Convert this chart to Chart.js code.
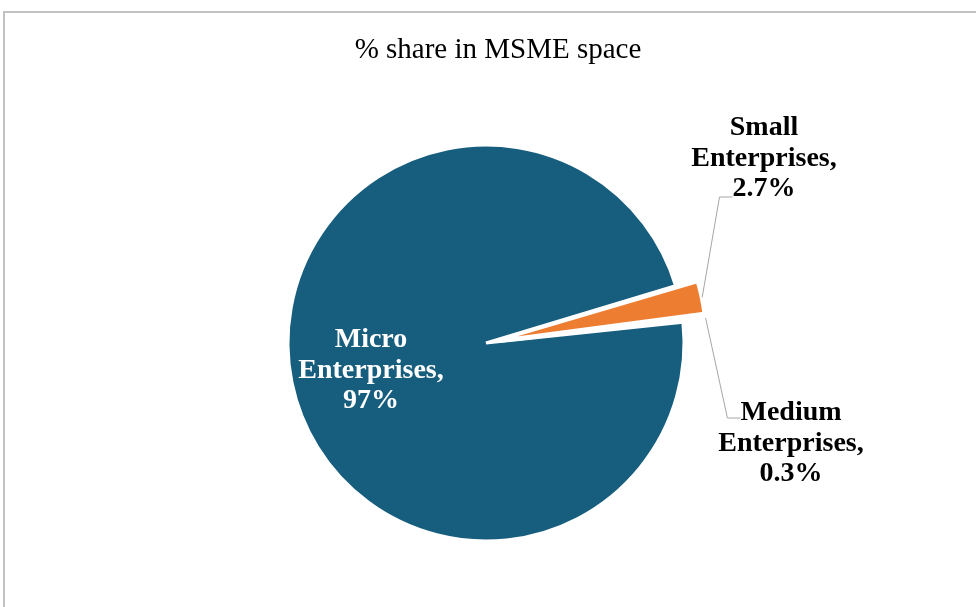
<!DOCTYPE html>
<html>
<head>
<meta charset="utf-8">
<script src="https://cdn.jsdelivr.net/npm/chart.js@4"></script>
<style>
  html, body { margin: 0; padding: 0; background: #fff; overflow: hidden; }
  #frame {
    position: absolute; left: 3px; top: 11px;
    width: 1000px; height: 700px;
    border: 2px solid #c2c2c2;
  }
  #wrap { position: absolute; left: 0; top: 0; width: 976px; height: 607px; }
</style>
</head>
<body>
<div id="frame"></div>
<div id="wrap"><canvas id="shareChart"></canvas></div>
<script>
// data
const chartTitle = "% share in MSME space";
const categories = ["Micro Enterprises", "Small Enterprises", "Medium Enterprises"];
const shares = [97, 2.7, 0.3];

const sliceColors = ["#175e7e", "#ed7d31", "#ffffff"];
const explode = [0, 48, 48]; // slice is moved by offset/2

// where each label sits, relative to the pie centre (first line baseline)
const labelLayout = [
    { dx: -115, dy: 4, color: "#ffffff", leader: null },
    { dx: 278, dy: -208, color: "#000000", leader: { line: 2, dy: 1 } },
    { dx: 305, dy: 77, color: "#000000", leader: { line: 0, dy: -2 } }
];
const lineGap = 30.5;
const serif = '"Liberation Serif", "Times New Roman", serif';

const sliceLabels = {
    id: "sliceLabels",
    afterDatasetsDraw(chart) {
        const ctx = chart.ctx;
        const meta = chart.getDatasetMeta(0);
        ctx.save();

        // title
        ctx.font = "29px " + serif;
        ctx.fillStyle = "#000000";
        ctx.textAlign = "center";
        ctx.textBaseline = "alphabetic";
        ctx.fillText(chartTitle, chart.width / 2 + 10, 58);

        ctx.font = "bold 28px " + serif;
        meta.data.forEach((arc, i) => {
            const p = arc.getProps(["x", "y", "startAngle", "endAngle", "outerRadius"], true);
            const lay = labelLayout[i];
            const words = categories[i].split(" ");
            const lines = [words[0], words[1] + ",", shares[i] + "%"];
            const cx = p.x + lay.dx;
            const by = p.y + lay.dy;

            ctx.fillStyle = lay.color;
            lines.forEach((t, k) => ctx.fillText(t, cx, by + k * lineGap));

            if (lay.leader) {
                const mid = (p.startAngle + p.endAngle) / 2;
                const r = p.outerRadius + (arc.options.offset || 0) / 2 - 1;
                const sx = p.x + Math.cos(mid) * r;
                const sy = p.y + Math.sin(mid) * r;
                const t = lines[lay.leader.line];
                const left = cx - ctx.measureText(t).width / 2;
                const ly = by + lay.leader.line * lineGap + lay.leader.dy;
                ctx.strokeStyle = "#a6a6a6";
                ctx.lineWidth = 1;
                ctx.beginPath();
                ctx.moveTo(sx, sy);
                ctx.lineTo(left - 13, ly);
                ctx.lineTo(left, ly);
                ctx.stroke();
            }
        });
        ctx.restore();
    }
};

const ctx = document.getElementById("shareChart").getContext("2d");

new Chart(ctx, {
    type: "pie",
    data: {
        labels: categories,
        datasets: [{
            data: shares,
            backgroundColor: sliceColors,
            borderColor: "#ffffff",
            borderWidth: 3,
            offset: explode,
            radius: 198
        }]
    },
    options: {
        responsive: true,
        maintainAspectRatio: false,
        animation: false,
        rotation: 84,
        layout: { padding: { top: 79, bottom: 0, left: 0, right: 4 } },
        plugins: {
            legend: { display: false },
            tooltip: { enabled: false },
            title: { display: false }
        }
    },
    plugins: [sliceLabels]
});
</script>
</body>
</html>
